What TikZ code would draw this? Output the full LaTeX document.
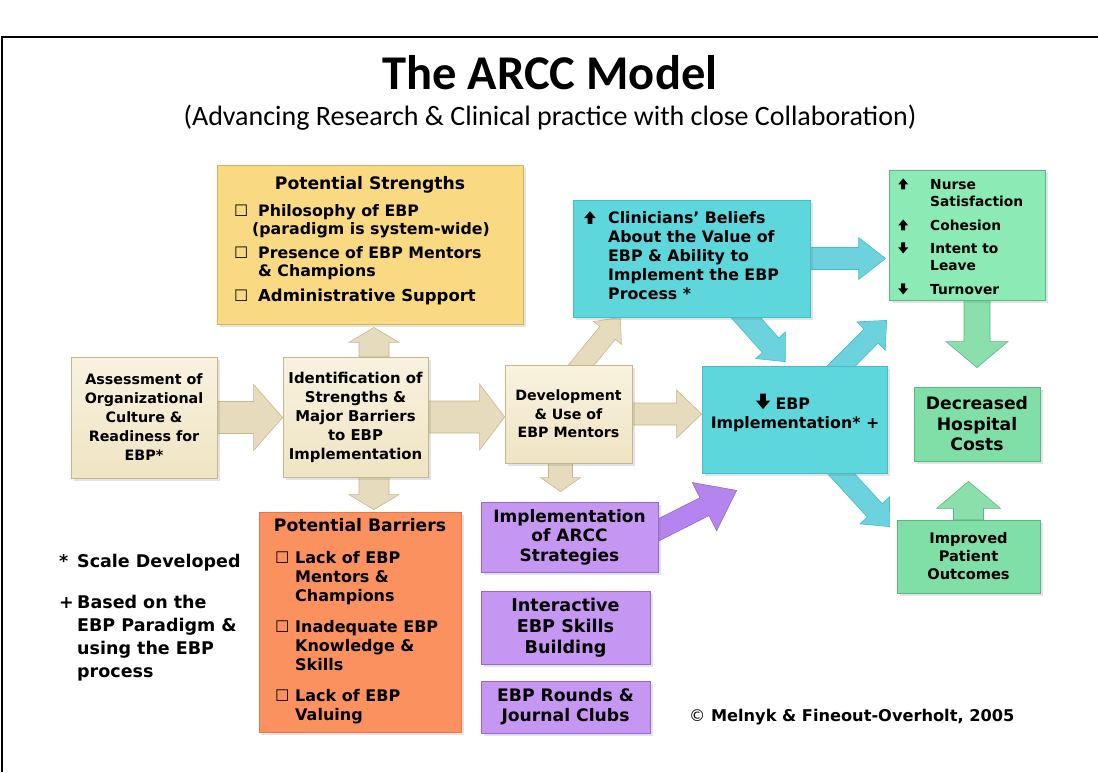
\documentclass[tikz,border=0pt]{standalone}
\usepackage{fontspec}
\setmainfont{DejaVu Sans}
\newfontfamily\calibri{Carlito}
\usepackage{xcolor}
\usetikzlibrary{calc, positioning, shadows}

\pgfdeclarelayer{back}
\pgfsetlayers{back,main}

\definecolor{beigeF}{HTML}{EFE4C3}
\definecolor{beigeL}{HTML}{F8F2DF}
\definecolor{beigeD}{HTML}{C6B68C}
\definecolor{beigeA}{HTML}{E6DBBC}
\definecolor{yelF}{HTML}{F9DA82}
\definecolor{yelD}{HTML}{D3B35C}
\definecolor{cyanF}{HTML}{5DD6DC}
\definecolor{cyanD}{HTML}{45BCC6}
\definecolor{cyanA}{HTML}{6CD2DD}
\definecolor{grnF}{HTML}{8CEBB4}
\definecolor{grnG}{HTML}{7FDFA7}
\definecolor{grnD}{HTML}{5EB486}
\definecolor{grnA}{HTML}{8ADFAA}
\definecolor{orgF}{HTML}{FB915F}
\definecolor{orgD}{HTML}{DE7A4E}
\definecolor{purF}{HTML}{C597F3}
\definecolor{purD}{HTML}{9369CB}
\definecolor{purA}{HTML}{B584EE}

\newcommand{\fsz}[2]{\fontsize{#1}{#2}\selectfont}
% small solid arrows used as bullets
\newcommand{\upar}{\tikz[x=1pt,y=1pt,baseline=0pt]\fill (-2,0) -- (2,0) -- (2,5) -- (5,5) -- (0,11) -- (-5,5) -- (-2,5) -- cycle;}
\newcommand{\dnar}{\tikz[x=1pt,y=1pt,baseline=0pt]\fill (-2,11) -- (2,11) -- (2,6) -- (5,6) -- (0,0) -- (-5,6) -- (-2,6) -- cycle;}
\newcommand{\tickbox}{{\mdseries ☐}}

% block arrow: style, from, to, half shaft, half head, head length
\newcommand{\blockarr}[6]{%
  \coordinate (hb) at ($(#3)!#6!(#2)$);
  \draw[#1] ($(#2)!#4!-90:(#3)$) -- ($(hb)!#4!-90:(#3)$) -- ($(hb)!#5!-90:(#3)$) -- (#3)
    -- ($(hb)!#5!90:(#3)$) -- ($(hb)!#4!90:(#3)$) -- ($(#2)!#4!90:(#3)$) -- cycle;}

\tikzset{
  box/.style={rectangle, inner sep=0pt, line width=0.8pt, align=center,
    drop shadow={opacity=0.22, shadow xshift=2.5pt, shadow yshift=-2.5pt}},
  beigebox/.style={box, draw=beigeD, top color=beigeL, bottom color=beigeF},
  yelbox/.style={box, draw=yelD, fill=yelF},
  cyanbox/.style={box, draw=cyanD, fill=cyanF},
  grnbox/.style={box, draw=grnD, fill=grnF},
  grnbox2/.style={box, draw=grnD, fill=grnG},
  orgbox/.style={box, draw=orgD, fill=orgF},
  purbox/.style={box, draw=purD, fill=purF},
  txt/.style={inner sep=0pt, font=\bfseries},
  beigearr/.style={fill=beigeA, draw=beigeD, line width=0.6pt},
  cyanarr/.style={fill=cyanA, draw=cyanD, line width=0.6pt},
  grnarr/.style={fill=grnA, draw=grnD, line width=0.6pt},
  purarr/.style={fill=purA, draw=purD, line width=0.6pt},
}

\begin{document}
\begin{tikzpicture}[x=1pt, y=-1pt]
  \useasboundingbox (0,0) rectangle (1098,772);

  % 1. Frame and title
  \draw[line width=1.6pt] (2,772) -- (2,37) -- (1098,37);
  \node[font=\calibri\bfseries\fsz{48.5}{52}] (title) at (550,73) {The ARCC Model};
  \node[font=\calibri\fsz{28}{30}] (subtitle) at (550,118) {(Advancing Research \& Clinical practice with close Collaboration)};

  % 2. Beige process boxes
  \node[beigebox, minimum width=146pt, minimum height=121pt, font=\bfseries\fsz{14.3}{19}] (assess) at (144,417.5) {Assessment of\\Organizational\\Culture \&\\Readiness for\\EBP*};
  \node[beigebox, minimum width=145pt, minimum height=120pt, font=\bfseries\fsz{14.9}{19}] (ident) at (355.5,417) {Identification of\\Strengths \&\\Major Barriers\\to EBP\\Implementation};
  \node[beigebox, minimum width=127pt, minimum height=98pt, font=\bfseries\fsz{14.2}{18.5}] (dev) at (568.5,414) {Development\\\& Use of\\EBP Mentors};

  % 3. Strengths and barriers
  \node[yelbox, minimum width=306pt, minimum height=159pt] (strengths) at (370,244.5) {};
  \node[txt, font=\bfseries\fsz{17.2}{20}] (strHead) at (370,185) {Potential Strengths};
  \node[txt, anchor=west, font=\bfseries\fsz{15.8}{18}] (strList) at (234,255) {%
    \begin{tabular}{@{}l@{}l@{}}
      \makebox[24pt][l]{\tickbox} & Philosophy of EBP\\
      & \hspace{-6pt}(paradigm is system-wide)\\[6pt]
      \tickbox & Presence of EBP Mentors\\
      & \& Champions\\[7pt]
      \tickbox & {\fsz{16.5}{18}Administrative Support}
    \end{tabular}};

  \node[orgbox, minimum width=202pt, minimum height=220pt] (barriers) at (360,622) {};
  \node[txt, font=\bfseries\fsz{17.2}{20}] (barHead) at (360,525) {Potential Barriers};
  \node[txt, anchor=west, font=\bfseries\fsz{16}{19}] (barList) at (275,638) {%
    \begin{tabular}{@{}l@{}l@{}}
      \makebox[20pt][l]{\tickbox} & Lack of EBP\\
      & Mentors \&\\
      & Champions\\[12pt]
      \tickbox & Inadequate EBP\\
      & Knowledge \&\\
      & Skills\\[12pt]
      \tickbox & Lack of EBP\\
      & Valuing
    \end{tabular}};

  % 4. Purple strategy boxes
  \node[purbox, minimum width=177pt, minimum height=70pt, font=\bfseries\fsz{17}{19.5}] (arcc) at (569.5,537) {Implementation\\of ARCC\\Strategies};
  \node[purbox, minimum width=169pt, minimum height=73pt, font=\bfseries\fsz{17.6}{21}] (skills) at (565.5,627.5) {Interactive\\EBP Skills\\Building};
  \node[purbox, minimum width=169pt, minimum height=52pt, font=\bfseries\fsz{17.2}{20}] (rounds) at (565.5,707) {EBP Rounds \&\\Journal Clubs};

  % 5. Cyan boxes
  \node[cyanbox, minimum width=237pt, minimum height=117pt] (clin) at (691.5,258.5) {};
  \node[txt, anchor=west, font=\bfseries\fsz{15.8}{19}] (clinText) at (584,258) {%
    \begin{tabular}{@{}l@{}l@{}}
      \makebox[24pt][l]{\scalebox{1.15}{\upar}} & Clinicians’ Beliefs\\
      & About the Value of\\
      & EBP \& Ability to\\
      & Implement the EBP\\
      & Process *
    \end{tabular}};
  \node[cyanbox, minimum width=185pt, minimum height=107pt] (ebp) at (794.5,419.5) {};
  \node[txt, font=\bfseries\fsz{15.8}{19}, align=center] (ebpText) at (795,412.5) {\scalebox{1.4}{\dnar}\ EBP\rule{24pt}{0pt}\\Implementation* +};

  % 6. Green outcome boxes
  \node[grnbox, minimum width=156pt, minimum height=130pt] (nurse) at (967,235) {};
  \node[txt, anchor=west, font=\bfseries\fsz{13.8}{17}] (nurseText) at (898,238.5) {%
    \begin{tabular}{@{}l@{}l@{}}
      \makebox[32pt][l]{\upar} & Nurse\\
      & Satisfaction\\[7pt]
      \upar & Cohesion\\[6pt]
      \dnar & Intent to\\
      & Leave\\[7pt]
      \dnar & Turnover
    \end{tabular}};
  \node[grnbox2, minimum width=126pt, minimum height=74pt, font=\bfseries\fsz{17.2}{20.5}] (costs) at (977,424) {Decreased\\Hospital\\Costs};
  \node[grnbox2, minimum width=143pt, minimum height=73pt, font=\bfseries\fsz{14.6}{18}] (patient) at (968.5,556.5) {Improved\\Patient\\Outcomes};

  % 7. Notes and credit
  \node[txt, anchor=west, font=\bfseries\fsz{17.5}{23}] (notes) at (59,617.5) {%
    \begin{tabular}{@{}l@{}l@{}}
      \makebox[18pt][l]{*} & Scale Developed\\[18pt]
      + & Based on the\\
      & EBP Paradigm \&\\
      & using the EBP\\
      & process
    \end{tabular}};
  \node[txt, anchor=west, font=\bfseries\fsz{16.2}{19}] (credit) at (689,717) {{\mdseries ©} Melnyk \& Fineout-Overholt, 2005};

  % 8. Arrow end points
  \coordinate (aId) at (ident.west |- assess.east);
  \coordinate (aDev) at (dev.west |- ident.east);
  \coordinate (upE) at ($(strengths.south)+(4,3)$);
  \coordinate (upS) at (upE |- ident.north);
  \coordinate (dnS) at (upE |- ident.south);
  \coordinate (dnE) at ($(upE |- barriers.north)+(0,-2)$);
  \coordinate (deE) at (ebp.west |- dev.east);
  \coordinate (dcS) at ($(dev.north)+(5,10)$);
  \coordinate (dcE) at ($(clin.south west)!0.2!(clin.south east)$);
  \coordinate (daS) at ($(dev.south)+(-8,-5)$);
  \coordinate (daE) at ($(daS |- arcc.north)+(0,-10)$);
  \coordinate (cnE) at ($(nurse.west |- clin.east)+(-3,0)$);
  \coordinate (ceS) at ($(clin.south west)!0.69!(clin.south east)+(0,-10)$);
  \coordinate (ceE) at ($(ebp.north west)!0.45!(ebp.north east)+(0,-4)$);
  \coordinate (enS) at ($(ebp.north west)!0.7!(ebp.north east)+(0,10)$);
  \coordinate (enE) at ($(nurse.south west)+(-2,20)$);
  \coordinate (epS) at ($(ebp.south west)!0.7!(ebp.south east)+(0,-10)$);
  \coordinate (epE) at ($(patient.north west)+(-7,7)$);
  \coordinate (ncS) at (costs.north |- nurse.south);
  \coordinate (ncE) at ($(costs.north)+(0,-19)$);
  \coordinate (pcE) at ($(patient.north |- costs.south)+(0,20)$);
  \coordinate (aeS) at ($(arcc.east)+(-10,-2)$);
  \coordinate (aeE) at ($(ebp.south west)+(35,17)$);

  % 9. Block arrows behind the boxes
  \begin{pgfonlayer}{back}
    \blockarr{beigearr}{assess.east}{aId}{16pt}{33pt}{29pt}
    \blockarr{beigearr}{ident.east}{aDev}{16pt}{33pt}{25pt}
    \blockarr{beigearr}{upS}{upE}{15pt}{25pt}{15pt}
    \blockarr{beigearr}{dnS}{dnE}{15pt}{25pt}{15pt}
    \blockarr{beigearr}{dev.east}{deE}{11pt}{24pt}{25pt}
    \blockarr{beigearr}{dcS}{dcE}{10pt}{18pt}{20pt}
    \blockarr{beigearr}{daS}{daE}{12pt}{20pt}{14pt}
    \blockarr{cyanarr}{clin.east}{cnE}{11pt}{21pt}{27pt}
    \blockarr{cyanarr}{ceS}{ceE}{11pt}{20pt}{22pt}
    \blockarr{cyanarr}{enS}{enE}{10pt}{20pt}{22pt}
    \blockarr{cyanarr}{epS}{epE}{10pt}{20pt}{22pt}
    \blockarr{grnarr}{ncS}{ncE}{13pt}{31pt}{26pt}
    \blockarr{grnarr}{patient.north}{pcE}{15pt}{32pt}{27pt}
    \blockarr{purarr}{aeS}{aeE}{10pt}{27pt}{36pt}
  \end{pgfonlayer}
\end{tikzpicture}
\end{document}
